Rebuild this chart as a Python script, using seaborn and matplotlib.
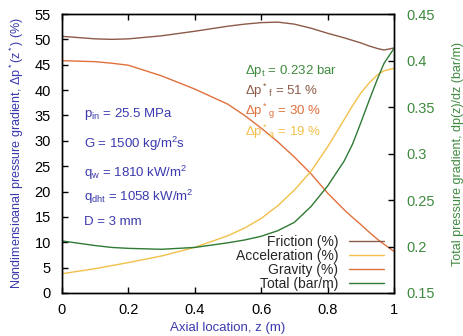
import numpy as np
import pandas as pd
import matplotlib
matplotlib.use("Agg")
import matplotlib.pyplot as plt
import seaborn as sns
from matplotlib.lines import Line2D

sns.set_style("white")
plt.rcParams['font.family'] = ['Liberation Sans', 'DejaVu Sans']
plt.rcParams['mathtext.fontset'] = 'custom'
plt.rcParams['mathtext.rm'] = 'Liberation Sans'
plt.rcParams['mathtext.it'] = 'Liberation Sans:italic'
plt.rcParams['mathtext.bf'] = 'Liberation Sans:bold'

# Data
z = [0.0, 0.1, 0.15, 0.2, 0.3, 0.4, 0.5, 0.55, 0.6, 0.65, 0.7, 0.75, 0.8, 0.85, 0.875,
     0.9, 0.925, 0.95, 0.97, 1.0]
friction = [50.6, 50.1, 50.0, 50.1, 50.7, 51.6, 52.6, 53.0, 53.3, 53.4, 53.0, 52.2, 51.2,
            50.3, 49.8, 49.3, 48.7, 48.2, 47.9, 48.3]
gravity = [45.8, 45.6, 45.3, 44.9, 42.8, 40.2, 37.2, 35.0, 32.5, 29.8, 26.8, 23.5, 19.7,
           16.4, 14.9, 13.5, 12.0, 10.6, 9.6, 8.2]
acceleration = [3.8, 4.8, 5.4, 6.0, 7.3, 9.0, 11.3, 12.8, 14.7, 17.2, 20.3, 24.0, 28.8,
                34.2, 36.9, 39.4, 41.4, 43.0, 43.8, 44.3]
total = [0.206, 0.201, 0.199, 0.198, 0.197, 0.199, 0.204, 0.207, 0.211, 0.217, 0.226,
         0.243, 0.265, 0.292, 0.310, 0.333, 0.357, 0.380, 0.397, 0.413]

labels = ["Friction (%)", "Acceleration (%)", "Gravity (%)", "Total (bar/m)"]
colors = {"Friction (%)": "#8c5a48", "Acceleration (%)": "#f2c04a",
          "Gravity (%)": "#e0703c", "Total (bar/m)": "#2f7a34"}
blue = "#3a3aae"
green = "#3f8a3f"

df = pd.DataFrame({"z": z, "Friction (%)": friction, "Acceleration (%)": acceleration,
                   "Gravity (%)": gravity})
long = df.melt(id_vars="z", var_name="series", value_name="value")
dft = pd.DataFrame({"z": z, "total": total})

fig = plt.figure(figsize=(4.64, 3.36), dpi=100)
ax = fig.add_axes([62/464, 1-293/336, (394-62)/464, (293-14)/336])

sns.lineplot(data=long, x="z", y="value", hue="series", palette=colors,
             hue_order=["Friction (%)", "Gravity (%)", "Acceleration (%)"],
             ax=ax, linewidth=1.0, legend=False)
ax2 = ax.twinx()
sns.lineplot(data=dft, x="z", y="total", color=colors["Total (bar/m)"], ax=ax2,
             linewidth=1.0, legend=False)

ax.set_xlim(0, 1)
ax.set_ylim(0, 55)
ax2.set_ylim(0.15, 0.45)
ax.set_xticks([0, 0.2, 0.4, 0.6, 0.8, 1])
ax.set_xticklabels(["0", "0.2", "0.4", "0.6", "0.8", "1"])
ax.set_yticks(range(0, 56, 5))
ax2.set_yticks([0.15, 0.2, 0.25, 0.3, 0.35, 0.4, 0.45])
ax2.set_yticklabels(["0.15", "0.2", "0.25", "0.3", "0.35", "0.4", "0.45"])

for a in (ax, ax2):
    for s in a.spines.values():
        s.set_color("black")
        s.set_linewidth(1.0)
ax.tick_params(axis="both", direction="in", length=4, width=1, labelsize=10.5,
               top=True, bottom=True, left=True, right=False, colors="black")
ax.tick_params(axis="x", pad=7)
ax.tick_params(axis="y", pad=8)
ax2.tick_params(axis="y", direction="in", length=4, width=1, labelsize=10.5,
                colors="black", labelcolor=green, pad=9)

ax.set_xlabel("Axial location, z (m)", color=blue, fontsize=9.5, labelpad=4)
ax.set_ylabel(r"Nondimensioanal pressure gradient, $\Delta$p$^*$(z$^*$) (%)",
              color=blue, fontsize=9, labelpad=6)
ax2.set_ylabel("Total pressure gradient, dp(z)/dz (bar/m)", color=green,
               fontsize=9, labelpad=12)

# Annotations (left block)
fs = 9.5
ax.text(0.065, 35.2, r"p$_{\rm in}$ = 25.5 MPa", color=blue, fontsize=fs, va="center")
ax.text(0.065, 29.4, r"G = 1500 kg/m$^2$s", color=blue, fontsize=fs, va="center")
ax.text(0.065, 23.6, r"q$_{\rm w}$ = 1810 kW/m$^2$", color=blue, fontsize=fs, va="center")
ax.text(0.065, 19.0, r"q$_{\rm dht}$ = 1058 kW/m$^2$", color=blue, fontsize=fs, va="center")
ax.text(0.065, 13.9, "D = 3 mm", color=blue, fontsize=fs, va="center")

# Annotations (right block)
ax.text(0.55, 43.8, r"$\Delta$p$_{\rm t}$ = 0.232 bar", color=green, fontsize=fs, va="center")
ax.text(0.55, 39.8, r"$\Delta$p$^*$$_{\rm f}$ = 51 %", color=colors["Friction (%)"], fontsize=fs, va="center")
ax.text(0.55, 35.8, r"$\Delta$p$^*$$_{\rm g}$ = 30 %", color=colors["Gravity (%)"], fontsize=fs, va="center")
ax.text(0.55, 31.8, r"$\Delta$p$^*$$_{\rm a}$ = 19 %", color=colors["Acceleration (%)"], fontsize=fs, va="center")

handles = [Line2D([0], [0], color=colors[l], lw=1.0) for l in labels]
leg = ax.legend(handles, labels, loc="lower right", bbox_to_anchor=(0.995, -0.022),
                markerfirst=False, frameon=False, fontsize=10, handlelength=2.5,
                handletextpad=0.8, labelspacing=0.0, borderaxespad=0.2)

fig.savefig("out.png", dpi=100)
